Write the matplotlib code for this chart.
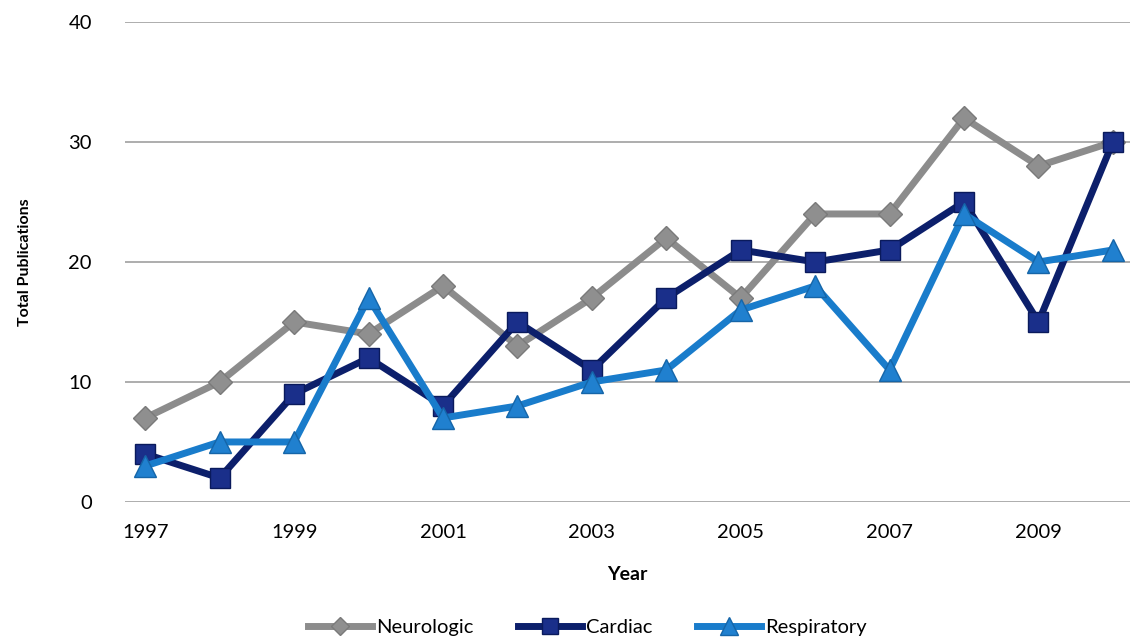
import matplotlib.pyplot as plt

years = list(range(1997, 2011))
neurologic = [7, 10, 15, 14, 18, 13, 17, 22, 17, 24, 24, 32, 28, 30]
cardiac = [4, 2, 9, 12, 8, 15, 11, 17, 21, 20, 21, 25, 15, 30]
respiratory = [3, 5, 5, 17, 7, 8, 10, 11, 16, 18, 11, 24, 20, 21]

plt.rcParams['font.family'] = ['Lato', 'DejaVu Sans']

fig = plt.figure(figsize=(11.38, 6.37), dpi=100)
ax = fig.add_axes([0.11, 0.212, 0.883, 0.7535])

ax.plot(years, neurologic, color="#8c8c8c", lw=5, marker="D", ms=12,
        mfc="#8f8f8f", mec="#7a7a7a", label="Neurologic", zorder=3)
ax.plot(years, cardiac, color="#0c1f6b", lw=5, marker="s", ms=14,
        mfc="#1a2f8a", mec="#0a1a5c", label="Cardiac", zorder=4)
ax.plot(years, respiratory, color="#197ccb", lw=5, marker="^", ms=16,
        mfc="#2080cf", mec="#1565a8", label="Respiratory", zorder=5)

ax.set_ylim(0, 40)
ax.set_xlim(1996.73, 2010.23)
ax.set_yticks([0, 10, 20, 30, 40])
ax.set_xticks(range(1997, 2011, 2))
ax.grid(axis="y", color="#a0a0a0", lw=1.2)
ax.set_axisbelow(True)
for s in ax.spines.values():
    s.set_visible(False)
ax.tick_params(length=0, labelsize=14.5, pad=16)
ax.tick_params(axis="y", pad=24)

ax.set_xlabel("Year", fontsize=14, fontweight="bold", labelpad=18)
ax.set_ylabel("Total Publications", fontsize=11.5, fontweight="bold", labelpad=26)

ax.legend(loc="upper center", bbox_to_anchor=(0.46, -0.205), ncol=3,
          frameon=False, fontsize=14.5, handlelength=3.2, columnspacing=2.2,
          handletextpad=0.2, markerscale=0.8)

fig.savefig("out.png", dpi=100)
